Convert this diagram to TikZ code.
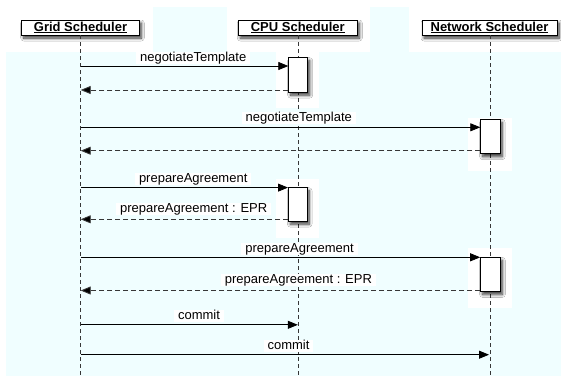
\documentclass[tikz,border=0pt]{standalone}
\usepackage{fontspec}
\setmainfont{Liberation Sans}
\usetikzlibrary{arrows.meta,shadows.blur}
\definecolor{bgcyan}{RGB}{240,254,255}
\definecolor{lifegray}{RGB}{55,55,55}
\tikzset{
  shadowed/.style={blur shadow={shadow xshift=2pt, shadow yshift=-3pt, shadow blur steps=8, shadow opacity=80, shadow blur radius=3pt}},
  head/.style={draw=black, line width=0.9pt, fill=white, minimum height=15pt, inner sep=0pt,
    font=\bfseries\fontsize{13}{13}\selectfont, shadowed},
  act/.style={draw=black, line width=0.8pt, fill=white, inner sep=0pt, anchor=north west, shadowed},
  lifeline/.style={draw=lifegray, line width=0.9pt, dash pattern=on 4pt off 3pt},
  msg/.style={draw=black, line width=0.8pt, -{Triangle[length=10pt,width=8pt]}},
  ret/.style={draw=lifegray, line width=0.9pt, dash pattern=on 5pt off 3pt, -{Triangle[length=10pt,width=8pt,fill=black]}},
  lbl/.style={fill=white, inner xsep=4pt, inner ysep=0pt, text height=9.5pt, text depth=2.5pt,
    font=\fontsize{13}{13}\selectfont},
  patch/.style={fill=white, draw=none},
}
\begin{document}
\begin{tikzpicture}[x=1pt,y=-1pt]
\useasboundingbox (0,0) rectangle (561,376);
% background
\fill[white] (0,0) rectangle (561,376);
\fill[bgcyan] (6,7) rectangle (561,376);
% white patches
\fill[patch] (6,7) rectangle (153,52);
\fill[patch] (226.7,7) rectangle (370,52);
\fill[patch] (409,7) rectangle (561,52);
\fill[patch] (276,52) rectangle (319,108);
\fill[patch] (468,118) rectangle (512,171);
\fill[patch] (275.5,179) rectangle (318.5,238);
\fill[patch] (468,248) rectangle (512,307.7);

% headers
\node[head, minimum width=117.6pt] (grid) at (80.5,27.5) {\underline{Grid Scheduler}};
\node[head, minimum width=119pt] (cpu) at (297.8,27.5) {\underline{CPU Scheduler}};
\node[head, minimum width=135pt] (net) at (489.5,27.5) {\underline{Network Scheduler}};

% lifeline ends
\coordinate (gridend) at (80.7,376);
\coordinate (cpuend) at (298.3,376);
\coordinate (netend) at (490,376);
\draw[lifeline] (grid.south -| gridend) -- (gridend);
\draw[lifeline] (cpu.south -| cpuend) -- (cpuend);
\draw[lifeline] (net.south -| netend) -- (netend);

% activations
\node[act, minimum width=19pt, minimum height=34.4pt] (a1) at (288.3,57.3) {};
\node[act, minimum width=19.4pt, minimum height=34.3pt] (a2) at (480.3,119) {};
\node[act, minimum width=18.6pt, minimum height=33.4pt] (a3) at (288,187.3) {};
\node[act, minimum width=19.7pt, minimum height=34pt] (a4) at (480.2,257) {};

% message points on grid lifeline
\coordinate (g1) at (80.7,66);
\coordinate (g1r) at (80.7,90);
\coordinate (g2) at (80.7,127.3);
\coordinate (g2r) at (80.7,150.7);
\coordinate (g3) at (80.7,187.6);
\coordinate (g3r) at (80.7,219.3);
\coordinate (g4) at (80.7,257.3);
\coordinate (g4r) at (80.7,290.5);
\coordinate (g5) at (80.7,324.8);
\coordinate (g6) at (80.7,354.7);
\coordinate (c5) at (297.8,324.8);
\coordinate (n6) at (489,354.7);

\draw[msg] (g1) -- (g1 -| a1.west);
\draw[ret] (g1r -| a1.west) -- (g1r);
\draw[msg] (g2) -- (g2 -| a2.west);
\draw[ret] (g2r -| a2.west) -- (g2r);
\draw[msg] (g3) -- (g3 -| a3.west);
\draw[ret] (g3r -| a3.west) -- (g3r);
\draw[msg] (g4) -- (g4 -| a4.west);
\draw[ret] (g4r -| a4.west) -- (g4r);
\draw[msg] (g5) -- (c5);
\draw[msg] (g6) -- (n6);

% labels
\node[lbl] (l1) at (193.2,58.3) {negotiateTemplate};
\node[lbl] (l2) at (298.8,118.3) {negotiateTemplate};
\node[lbl] (l3) at (193.2,178.6) {prepareAgreement};
\node[lbl] (l4) at (193.7,209.3) {prepareAgreement : EPR};
\node[lbl] (l5) at (299.6,248.6) {prepareAgreement};
\node[lbl] (l6) at (298.4,280) {prepareAgreement : EPR};
\node[lbl] (l7) at (199,315.8) {commit};
\node[lbl] (l8) at (288.5,345.8) {commit};
\end{tikzpicture}
\end{document}
